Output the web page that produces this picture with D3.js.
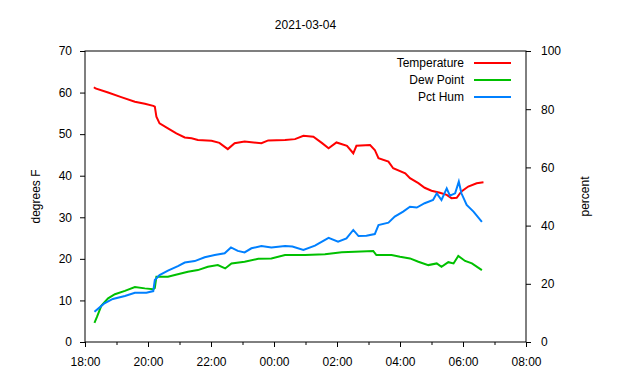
<!DOCTYPE html>
<html>
<head>
<meta charset="utf-8">
<script src="https://cdn.jsdelivr.net/npm/d3@7"></script>
<style>
  body { margin: 0; background: #fff; }
  svg { display: block; font-family: "Liberation Sans", Arial, sans-serif; }
  .axis text { font-size: 12px; fill: #000; }
  .axis path, .axis line { stroke: #000; }
</style>
</head>
<body>
<div id="chart"></div>
<script>
const chartTitle = "2021-03-04";
const xTickLabels = ["18:00", "20:00", "22:00", "00:00", "02:00", "04:00", "06:00", "08:00"];
const seriesNames = ["Temperature", "Dew Point", "Pct Hum"];
const seriesColors = ["#ff0000", "#00c000", "#0080ff"];

const tempTimes = ["18:17","18:20","18:44","19:09","19:35","19:54","20:10","20:13","20:16","20:22","20:38","20:54","21:10","21:23","21:35","22:01","22:16","22:32","22:45","23:04","23:36","23:49","00:21","00:40","00:56","01:15","01:31","01:44","01:59","02:19","02:31","02:37","03:03","03:12","03:19","03:38","03:47","04:10","04:19","04:35","04:47","05:00","05:16","05:29","05:38","05:48","05:57","06:10","06:26","06:39"];
const tempValues = [61.3,61.0,60.0,58.9,57.8,57.3,56.8,56.6,54.2,52.6,51.4,50.2,49.2,49.0,48.6,48.4,47.9,46.4,47.8,48.2,47.8,48.5,48.6,48.8,49.6,49.4,47.9,46.6,48.0,47.2,45.4,47.2,47.4,46.2,44.2,43.4,41.8,40.6,39.4,38.2,37.1,36.4,35.9,35.4,34.6,34.7,36.2,37.4,38.2,38.4];

const dewTimes = ["18:18","18:23","18:31","18:44","18:57","19:16","19:35","19:54","20:10","20:13","20:16","20:38","20:51","21:16","21:35","21:54","22:13","22:27","22:39","23:04","23:30","23:55","00:21","00:59","01:37","02:09","02:34","03:09","03:15","03:44","04:00","04:19","04:35","04:54","05:10","05:19","05:32","05:42","05:51","06:04","06:17","06:36"];
const dewValues = [4.6,6.1,8.7,10.5,11.5,12.3,13.2,12.9,12.7,13.0,15.7,15.7,16.1,16.9,17.3,18.1,18.5,17.7,18.9,19.3,20.0,20.1,20.9,20.9,21.1,21.6,21.7,21.9,20.9,20.9,20.5,20.1,19.3,18.5,18.9,18.1,19.2,18.9,20.7,19.5,18.9,17.3];

const humTimes = ["18:18","18:28","18:37","18:53","19:16","19:35","19:57","20:10","20:13","20:22","20:38","20:57","21:10","21:29","21:48","22:07","22:26","22:38","22:51","23:04","23:17","23:36","23:55","00:21","00:35","00:56","01:18","01:44","02:02","02:18","02:31","02:41","02:56","03:12","03:19","03:38","03:50","04:06","04:19","04:32","04:47","05:03","05:10","05:19","05:29","05:35","05:45","05:52","05:57","06:07","06:20","06:36"];
const humValues = [10.4,11.9,13.3,14.8,15.8,16.9,16.9,17.5,21.3,23.0,24.5,26.1,27.3,27.8,29.1,29.9,30.5,32.5,31.3,30.8,32.2,33.0,32.5,33.0,32.8,31.6,33.1,35.8,34.5,35.6,38.5,36.4,36.5,37.1,40.2,41.0,43.1,44.8,46.5,46.2,47.7,48.8,51.1,48.8,52.8,50.3,51.1,55.1,51.1,47.1,44.8,41.3];

const width = 640, height = 380;
const margin = { top: 51, right: 114, bottom: 38, left: 85 };
const plotW = width - margin.left - margin.right;
const plotH = height - margin.top - margin.bottom;

// times before 18:00 belong to the next day
function parseClock(s) {
    const [h, m] = s.split(":").map(Number);
    return new Date(2021, 2, h < 18 ? 5 : 4, h, m);
}

const x = d3.scaleTime()
    .domain([new Date(2021, 2, 4, 18, 0), new Date(2021, 2, 5, 8, 0)])
    .range([0, plotW]);
const y = d3.scaleLinear().domain([0, 70]).range([plotH, 0]);
const y2 = d3.scaleLinear().domain([0, 100]).range([plotH, 0]);

const svg = d3.select("#chart").append("svg")
    .attr("width", width).attr("height", height);
const plot = svg.append("g").attr("transform", `translate(${margin.left},${margin.top})`);

const majorTicks = d3.timeHour.every(2).range(x.domain()[0], d3.timeMinute.offset(x.domain()[1], 1));
const minorTicks = d3.timeHour.every(1).range(x.domain()[0], x.domain()[1]).filter(d => d.getHours() % 2 === 1);

plot.append("g").attr("class", "axis")
    .attr("transform", `translate(0,${plotH})`)
    .call(d3.axisBottom(x).tickValues(minorTicks).tickSize(3).tickFormat(""))
    .call(g => g.select(".domain").remove());

plot.append("g").attr("class", "axis")
    .attr("transform", `translate(0,${plotH})`)
    .call(d3.axisBottom(x).tickValues(majorTicks).tickSize(5).tickPadding(10)
        .tickFormat((d, i) => xTickLabels[i]))
    .call(g => g.select(".domain").remove());

plot.append("g").attr("class", "axis")
    .call(d3.axisLeft(y).ticks(7).tickSize(5).tickPadding(8))
    .call(g => g.select(".domain").remove());

plot.append("g").attr("class", "axis")
    .attr("transform", `translate(${plotW},0)`)
    .call(d3.axisRight(y2).ticks(5).tickSize(5).tickPadding(10))
    .call(g => g.select(".domain").remove());

plot.append("rect")
    .attr("width", plotW).attr("height", plotH)
    .attr("fill", "none").attr("stroke", "#000").attr("stroke-width", 1);

function drawSeries(times, values, scale, color) {
    const pts = times.map((t, i) => [parseClock(t), values[i]]);
    plot.append("path")
        .datum(pts)
        .attr("fill", "none")
        .attr("stroke", color)
        .attr("stroke-width", 2)
        .attr("d", d3.line().x(d => x(d[0])).y(d => scale(d[1])));
}

drawSeries(tempTimes, tempValues, y, seriesColors[0]);
drawSeries(dewTimes, dewValues, y, seriesColors[1]);
drawSeries(humTimes, humValues, y2, seriesColors[2]);

svg.append("text")
    .attr("x", margin.left + plotW / 2).attr("y", 29)
    .attr("text-anchor", "middle").attr("font-size", 12)
    .text(chartTitle);

svg.append("text")
    .attr("transform", `translate(40,${margin.top + plotH / 2}) rotate(-90)`)
    .attr("text-anchor", "middle").attr("font-size", 12)
    .text("degrees F");

svg.append("text")
    .attr("transform", `translate(589,${margin.top + plotH / 2}) rotate(-90)`)
    .attr("text-anchor", "middle").attr("font-size", 12)
    .text("percent");

const legend = svg.append("g");
seriesNames.forEach((name, i) => {
    const ly = 63 + i * 17;
    legend.append("text")
        .attr("x", 464).attr("y", ly + 4)
        .attr("text-anchor", "end").attr("font-size", 12)
        .text(name);
    legend.append("line")
        .attr("x1", 474).attr("x2", 511).attr("y1", ly).attr("y2", ly)
        .attr("stroke", seriesColors[i]).attr("stroke-width", 2);
});
</script>
</body>
</html>
